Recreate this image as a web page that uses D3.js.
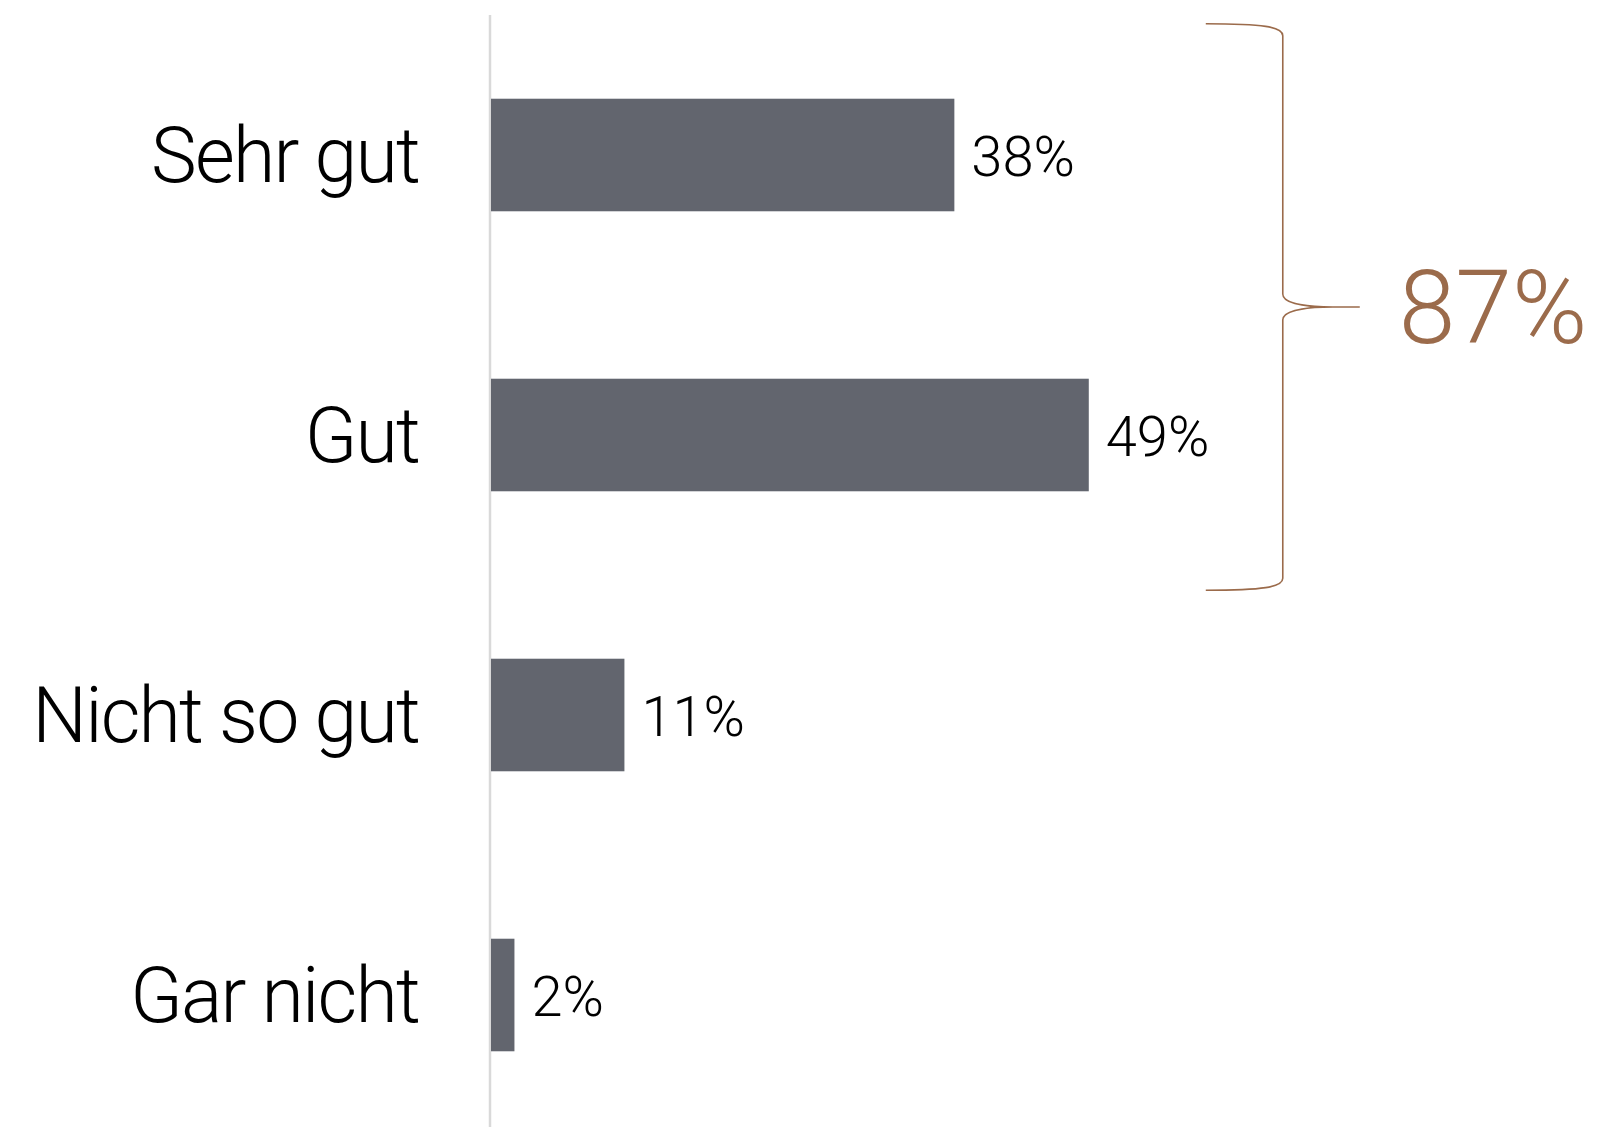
<!DOCTYPE html>
<html>
<head>
<meta charset="utf-8">
<script src="https://cdn.jsdelivr.net/npm/d3@7/dist/d3.min.js"></script>
<style>
  html, body { margin: 0; padding: 0; background: #fff; }
  svg { display: block; }
  text { font-family: Roboto, "Helvetica Neue", Arial, sans-serif; font-weight: 300; }
</style>
</head>
<body>
<svg id="chart" width="1604" height="1127"></svg>
<script>
const categories = ["Sehr gut", "Gut", "Nicht so gut", "Gar nicht"];
const values = [38, 49, 11, 2];
const valueLabels = ["38%", "49%", "11%", "2%"];
const summaryGroup = ["Sehr gut", "Gut"];
const summaryLabel = "87%";

(function () {
const W = 1604, H = 1127;
const svg = d3.select("#chart");

const x = d3.scaleLinear().domain([0, 100]).range([490, 1712]);
const y = d3.scaleBand().domain(categories).range([15, 1135])
  .paddingInner(0.598).paddingOuter(0.299);

const barColor = "#62656e";
const accent = "#9b6b4b";

// axis line
svg.append("line")
  .attr("x1", x(0)).attr("x2", x(0))
  .attr("y1", 15).attr("y2", H)
  .attr("stroke", "#d9d9d9").attr("stroke-width", 2.5);

// bars
svg.selectAll("rect.bar").data(categories).join("rect")
  .attr("class", "bar")
  .attr("x", x(0) + 1)
  .attr("y", d => y(d))
  .attr("width", (d, i) => x(values[i]) - x(0) - 1)
  .attr("height", y.bandwidth())
  .attr("fill", barColor);

// category labels
const catSize = 77;
svg.selectAll("text.cat").data(categories).join("text")
  .attr("class", "cat")
  .attr("x", 419)
  .attr("y", d => y(d) + y.bandwidth() / 2 + catSize * 0.345)
  .attr("text-anchor", "end")
  .attr("font-size", catSize)
  .attr("letter-spacing", -1.8)
  .attr("fill", "#000")
  .text(d => d);

// value labels
const valSize = 56;
svg.selectAll("text.val").data(categories).join("text")
  .attr("class", "val")
  .attr("x", (d, i) => x(values[i]) + 17)
  .attr("y", d => y(d) + y.bandwidth() / 2 + valSize * 0.37)
  .attr("font-size", valSize)
  .attr("fill", "#000")
  .text((d, i) => valueLabels[i]);

// brace
const maxV = d3.max(values.filter((v, i) => summaryGroup.includes(categories[i])));
const bx = x(maxV) + 194;
const bTop = y(summaryGroup[0]) - 75;
const bBot = y(summaryGroup[summaryGroup.length - 1]) + y.bandwidth() + 99;
const mid = (bTop + bBot) / 2;
const arm = 77;
const p = d3.path();
p.moveTo(bx - arm, bTop);
p.bezierCurveTo(bx - 20, bTop, bx, bTop + 3, bx, bTop + 12);
p.lineTo(bx, mid - 13);
p.bezierCurveTo(bx, mid - 2, bx + 30, mid, bx + 50, mid);
p.lineTo(bx + arm, mid);
p.moveTo(bx + 50, mid);
p.bezierCurveTo(bx + 30, mid, bx, mid + 2, bx, mid + 13);
p.lineTo(bx, bBot - 12);
p.bezierCurveTo(bx, bBot - 3, bx - 20, bBot, bx - arm, bBot);
svg.append("path")
  .attr("d", p.toString())
  .attr("fill", "none")
  .attr("stroke", accent)
  .attr("stroke-width", 1.6);

// summary label
const sumSize = 102;
svg.append("text")
  .attr("x", bx + 116)
  .attr("y", mid + sumSize * 0.35)
  .attr("font-size", sumSize)
  .attr("fill", accent)
  .text(summaryLabel);
})();
</script>
</body>
</html>
